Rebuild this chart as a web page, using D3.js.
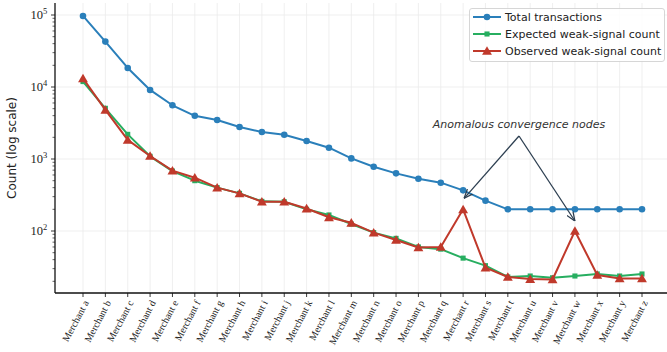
<!DOCTYPE html>
<html>
<head>
<meta charset="utf-8">
<script src="https://cdn.jsdelivr.net/npm/d3@7"></script>
<style>
  body { margin: 0; background: #fff; }
  svg { display: block; }
</style>
</head>
<body>
<div id="chart"></div>
<script>
// merchants, left to right
const merchants = "abcdefghijklmnopqrstuvwxyz".split("").map(c => "Merchant " + c);

const totalTx = [97000, 42700, 18400, 9100, 5570, 3980, 3480, 2780, 2370, 2175, 1780, 1436, 1020,
                 781, 632, 533, 469, 367, 264, 200, 200, 200, 200, 200, 200, 200];
const expected = [11900, 5060, 2200, 1090, 680, 500, 400, 333, 258, 255, 200, 167, 125,
                  95, 79, 60, 56, 42, 33, 23, 23.7, 22.4, 23.7, 25.3, 23.7, 25.3];
const observed = [13200, 4800, 1840, 1100, 690, 550, 400, 333, 255, 255, 205, 155, 130,
                  95, 75, 59, 60, 200, 31, 23, 21.5, 21.2, 100, 24.5, 21.9, 21.9];

const seriesNames = ["Total transactions", "Expected weak-signal count", "Observed weak-signal count"];
const anomalies = ["Merchant r", "Merchant w"];

const width = 667, height = 352;
const pLeft = 55, pTop = 3, pBottom = 293, pRight = 667;

const svg = d3.select("#chart").append("svg")
  .attr("width", width)
  .attr("height", height);

const x = d3.scalePoint()
  .domain(merchants)
  .range([83, 642]);

const y = d3.scaleLog()
  .domain([1e2, 1e5])
  .range([231, 15]);

// grid
const majors = [1e2, 1e3, 1e4, 1e5];
svg.append("g").selectAll("line").data(majors).enter().append("line")
  .attr("x1", pLeft).attr("x2", pRight)
  .attr("y1", d => y(d)).attr("y2", d => y(d))
  .style("stroke", "#ebebeb").style("stroke-width", 0.8);
svg.append("g").selectAll("line").data(merchants).enter().append("line")
  .attr("x1", d => x(d)).attr("x2", d => x(d))
  .attr("y1", pTop).attr("y2", pBottom)
  .style("stroke", "#ebebeb").style("stroke-width", 0.8);

// y axis ticks
const minors = [];
[10, 100, 1000, 10000, 100000].forEach(b => {
  for (let k = 2; k <= 9; k++) {
    const v = b * k;
    if (y(v) >= pTop && y(v) <= pBottom) minors.push(v);
  }
});
const yAxis = svg.append("g");
yAxis.selectAll("line.mn").data(minors).enter().append("line")
  .attr("class", "mn")
  .attr("x1", pLeft - 2.5).attr("x2", pLeft)
  .attr("y1", d => y(d)).attr("y2", d => y(d))
  .style("stroke", "#222").style("stroke-width", 0.7);
yAxis.selectAll("line.mj").data(majors).enter().append("line")
  .attr("class", "mj")
  .attr("x1", pLeft - 4).attr("x2", pLeft)
  .attr("y1", d => y(d)).attr("y2", d => y(d))
  .style("stroke", "#222").style("stroke-width", 0.9);
yAxis.selectAll("text.base").data(majors).enter().append("text")
  .attr("class", "base")
  .attr("x", pLeft - 12)
  .attr("y", d => y(d) + 4)
  .attr("text-anchor", "end")
  .style("font-family", "Liberation Serif, Times New Roman, serif")
  .style("font-size", "12.5px")
  .style("fill", "#222")
  .text("10");
yAxis.selectAll("text.sup").data(majors).enter().append("text")
  .attr("class", "sup")
  .attr("x", pLeft - 12)
  .attr("y", d => y(d) - 1)
  .style("font-family", "Liberation Serif, Times New Roman, serif")
  .style("font-size", "8.5px")
  .style("fill", "#222")
  .text(d => Math.round(Math.log10(d)));

// x ticks & labels
const xAxis = svg.append("g");
xAxis.selectAll("line").data(merchants).enter().append("line")
  .attr("x1", d => x(d)).attr("x2", d => x(d))
  .attr("y1", pBottom).attr("y2", pBottom + 4)
  .style("stroke", "#222").style("stroke-width", 0.9);
xAxis.selectAll("text").data(merchants).enter().append("text")
  .attr("transform", d => `translate(${x(d) + 3},${pBottom + 8}) rotate(-62)`)
  .attr("text-anchor", "end")
  .attr("dy", "0.35em")
  .style("font-family", "Liberation Serif, Times New Roman, serif")
  .style("font-size", "10px")
  .style("fill", "#222")
  .text(d => d);

// spines
svg.append("line").attr("x1", pLeft).attr("x2", pLeft).attr("y1", pTop).attr("y2", pBottom)
  .style("stroke", "#111").style("stroke-width", 1.3);
svg.append("line").attr("x1", pLeft).attr("x2", pRight).attr("y1", pBottom).attr("y2", pBottom)
  .style("stroke", "#111").style("stroke-width", 1.3);

// y label
svg.append("text")
  .attr("transform", `translate(16,${(pTop + pBottom) / 2}) rotate(-90)`)
  .attr("text-anchor", "middle")
  .style("font-family", "DejaVu Sans, sans-serif")
  .style("font-size", "12px")
  .style("fill", "#222")
  .text("Count (log scale)");

const colors = ["#2a7fba", "#27ae60", "#c0392b"];
const allSeries = [totalTx, expected, observed];
const line = d3.line().x((d, i) => x(merchants[i])).y(d => y(d));

const triangle = d3.symbol().type(d3.symbolTriangle).size(42);
const square = d3.symbol().type(d3.symbolSquare).size(26);
const circle = d3.symbol().type(d3.symbolCircle).size(34);
const shapes = [circle, square, triangle];

allSeries.forEach((vals, s) => {
  const g = svg.append("g");
  g.append("path")
    .datum(vals)
    .attr("d", line)
    .style("fill", "none")
    .style("stroke", colors[s])
    .style("stroke-width", 2)
    .style("stroke-linejoin", "round");
  g.selectAll("path.m").data(vals).enter().append("path")
    .attr("class", "m")
    .attr("transform", (d, i) => `translate(${x(merchants[i])},${y(d) + (s === 2 ? 1 : 0)})`)
    .attr("d", shapes[s]())
    .style("fill", colors[s]);
});

// annotation
const defs = svg.append("defs");
defs.append("marker")
  .attr("id", "arrow")
  .attr("viewBox", "0 0 10 10")
  .attr("refX", 10).attr("refY", 5)
  .attr("markerWidth", 7).attr("markerHeight", 7)
  .attr("orient", "auto-start-reverse")
  .append("path")
  .attr("d", "M0,1 L10,5 L0,9")
  .style("fill", "none")
  .style("stroke", "#2c3e50")
  .style("stroke-width", 1.4);

const ax = 519, ay = 136;
const targets = [
  [x(anomalies[0]) + 1, y(observed[17]) - 11],
  [x(anomalies[1]), y(observed[22]) - 10]
];
targets.forEach(t => {
  svg.append("line")
    .attr("x1", ax).attr("y1", ay)
    .attr("x2", t[0]).attr("y2", t[1])
    .style("stroke", "#2c3e50")
    .style("stroke-width", 1.3)
    .attr("marker-end", "url(#arrow)");
});
svg.append("text")
  .attr("x", ax).attr("y", 128)
  .attr("text-anchor", "middle")
  .style("font-family", "DejaVu Sans, sans-serif")
  .style("font-style", "italic")
  .style("font-size", "11px")
  .style("fill", "#333")
  .text("Anomalous convergence nodes");

// legend
const lg = svg.append("g");
lg.append("rect")
  .attr("x", 469.5).attr("y", 8.5)
  .attr("width", 195).attr("height", 53)
  .attr("rx", 2.5)
  .style("fill", "#fff").style("fill-opacity", 0.85)
  .style("stroke", "#ccc").style("stroke-width", 0.8);
seriesNames.forEach((name, s) => {
  const ly = 17 + s * 17;
  lg.append("line")
    .attr("x1", 473).attr("x2", 501)
    .attr("y1", ly).attr("y2", ly)
    .style("stroke", colors[s]).style("stroke-width", 2);
  lg.append("path")
    .attr("transform", `translate(487,${ly + (s === 2 ? 1 : 0)})`)
    .attr("d", shapes[s]())
    .style("fill", colors[s]);
  lg.append("text")
    .attr("x", 505).attr("y", ly + 4)
    .style("font-family", "DejaVu Sans, sans-serif")
    .style("font-size", "11px")
    .style("fill", "#222")
    .text(name);
});
</script>
</body>
</html>
